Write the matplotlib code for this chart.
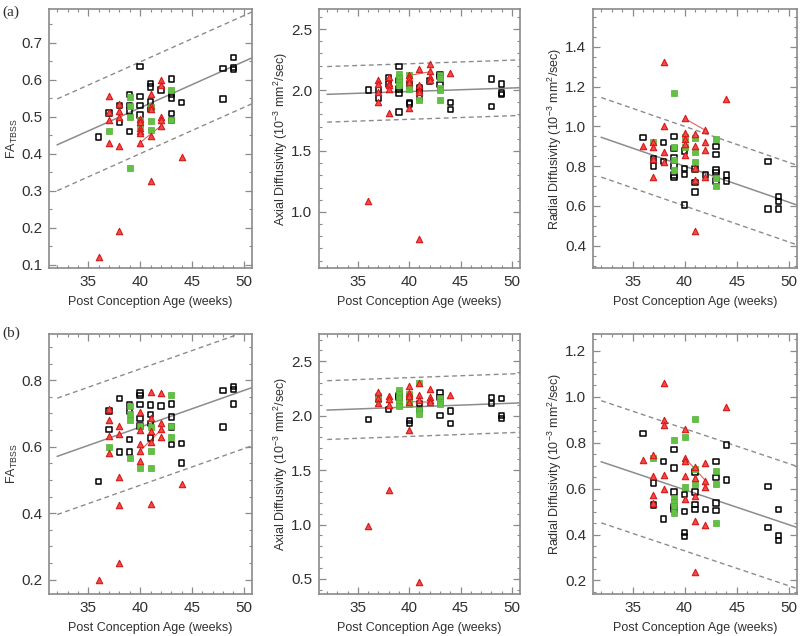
import numpy as np
import matplotlib
matplotlib.use("Agg")
import matplotlib.pyplot as plt
from matplotlib.ticker import MultipleLocator

# ---- (a) FA ----
fa_a_ctrl_age = [36, 37, 38, 38, 39, 39, 39, 39, 40, 40, 40, 40, 41, 41, 41, 41, 42, 43, 43, 43, 43, 43, 44, 48, 48, 49, 49, 49]
fa_a_ctrl_val = [0.445, 0.51, 0.53, 0.485, 0.56, 0.53, 0.515, 0.46, 0.635, 0.555, 0.53, 0.505, 0.59, 0.58, 0.54, 0.52,
                 0.572, 0.602, 0.56, 0.55, 0.508, 0.49, 0.538, 0.63, 0.548, 0.66, 0.633, 0.628]
fa_a_grn_age = [37, 39, 39, 39, 39, 40, 40, 41, 41, 41, 43, 43]
fa_a_grn_val = [0.462, 0.552, 0.528, 0.50, 0.362, 0.49, 0.475, 0.525, 0.488, 0.465, 0.572, 0.492]
fa_a_red_age = [36, 37, 37, 37, 37, 38, 38, 38, 38, 38, 40, 40, 40, 40, 40, 40, 41, 41, 41, 41, 41, 42, 42, 42, 42, 42, 44]
fa_a_red_val = [0.12, 0.555, 0.512, 0.49, 0.43, 0.535, 0.515, 0.498, 0.42, 0.19, 0.495, 0.485, 0.47, 0.46, 0.455, 0.43,
                0.56, 0.53, 0.52, 0.447, 0.325, 0.60, 0.585, 0.50, 0.49, 0.475, 0.39]
fa_a_link_age = [40, 42]
fa_a_link_val = [0.43, 0.475]

# ---- (a) AD ----
ad_a_ctrl_age = [36, 37, 37, 38, 38, 39, 39, 39, 39, 39, 40, 40, 40, 41, 41, 41, 42, 43, 43, 43, 44, 44, 48, 48, 49, 49, 49]
ad_a_ctrl_val = [2.0, 2.0, 1.935, 2.105, 2.05, 2.195, 2.08, 2.01, 1.975, 1.82, 2.04, 1.9, 1.885, 2.02, 2.0, 1.94, 2.075,
                 2.13, 2.11, 2.045, 1.9, 1.84, 2.09, 1.865, 2.05, 1.975, 1.965]
ad_a_grn_age = [39, 39, 39, 39, 40, 40, 41, 43, 43, 43, 43, 43]
ad_a_grn_val = [2.13, 2.1, 2.065, 2.04, 2.12, 2.01, 1.915, 2.12, 2.1, 2.02, 2.0, 1.92]
ad_a_red_age = [36, 37, 37, 37, 37, 38, 38, 38, 38, 38, 40, 40, 40, 40, 41, 41, 41, 41, 41, 42, 42, 42, 42, 44]
ad_a_red_val = [1.09, 2.085, 2.05, 1.98, 1.9, 2.11, 2.06, 2.04, 2.01, 1.81, 2.12, 2.1, 2.07, 1.85, 2.17, 2.04, 2.0, 1.98,
                0.78, 2.215, 2.155, 2.11, 2.08, 2.14]
ad_a_link_age = [40, 42]
ad_a_link_val = [2.12, 2.15]

# ---- (a) RD ----
rd_a_ctrl_age = [36, 37, 37, 38, 38, 39, 39, 39, 39, 39, 39, 40, 40, 40, 40, 41, 41, 41, 42, 43, 43, 43, 43, 43, 44, 44,
                 48, 48, 49, 49, 49]
rd_a_ctrl_val = [0.945, 0.835, 0.80, 0.92, 0.822, 0.95, 0.89, 0.845, 0.80, 0.755, 0.743, 0.877, 0.789, 0.758, 0.604,
                 0.785, 0.718, 0.671, 0.755, 0.90, 0.86, 0.78, 0.767, 0.725, 0.755, 0.725, 0.822, 0.584, 0.646, 0.621, 0.584]
rd_a_grn_age = [37, 39, 39, 39, 39, 40, 40, 41, 41, 41, 43, 43, 43]
rd_a_grn_val = [0.92, 1.17, 0.895, 0.83, 0.78, 0.948, 0.897, 0.94, 0.872, 0.819, 0.936, 0.738, 0.70]
rd_a_red_age = [36, 37, 37, 37, 37, 38, 38, 38, 38, 40, 40, 40, 40, 40, 41, 41, 41, 41, 41, 42, 42, 42, 42, 44]
rd_a_red_val = [0.90, 0.92, 0.897, 0.834, 0.743, 1.325, 1.003, 0.872, 0.822, 1.04, 0.968, 0.934, 0.911, 0.856, 0.961,
                0.90, 0.789, 0.73, 0.475, 0.98, 0.92, 0.88, 0.747, 1.14]
rd_a_link_age = [40, 42]
rd_a_link_val = [1.04, 0.98]

# ---- (b) FA ----
fa_b_ctrl_age = [36, 37, 37, 38, 38, 39, 39, 39, 39, 40, 40, 40, 40, 40, 41, 41, 41, 41, 42, 43, 43, 43, 43, 44, 44,
                 48, 48, 49, 49, 49]
fa_b_ctrl_val = [0.496, 0.707, 0.652, 0.745, 0.584, 0.727, 0.707, 0.621, 0.584, 0.762, 0.754, 0.727, 0.685, 0.662,
                 0.725, 0.697, 0.669, 0.626, 0.722, 0.729, 0.689, 0.659, 0.606, 0.609, 0.551, 0.769, 0.659, 0.782, 0.772, 0.729]
fa_b_grn_age = [37, 39, 39, 39, 39, 40, 40, 41, 41, 41, 43, 43, 43]
fa_b_grn_val = [0.60, 0.722, 0.699, 0.679, 0.566, 0.662, 0.536, 0.659, 0.586, 0.536, 0.757, 0.662, 0.628]
fa_b_red_age = [36, 37, 37, 37, 37, 38, 38, 38, 38, 38, 40, 40, 40, 40, 40, 41, 41, 41, 41, 41, 42, 42, 42, 42, 44]
fa_b_red_val = [0.198, 0.714, 0.679, 0.631, 0.581, 0.662, 0.638, 0.508, 0.426, 0.25, 0.704, 0.649, 0.608, 0.586, 0.556,
                0.765, 0.687, 0.647, 0.613, 0.428, 0.762, 0.672, 0.652, 0.628, 0.488]
fa_b_link_age = [40, 42]
fa_b_link_val = [0.588, 0.65]

# ---- (b) AD ----
ad_b_ctrl_age = [36, 37, 38, 39, 39, 40, 40, 40, 41, 41, 43, 43, 43, 44, 44, 48, 48, 49, 49, 49]
ad_b_ctrl_val = [1.965, 2.155, 2.055, 2.185, 2.17, 2.175, 1.955, 1.93, 2.115, 2.05, 2.215, 2.17, 2.0, 2.045, 1.93,
                 2.17, 2.115, 2.16, 2.0, 1.975]
ad_b_grn_age = [37, 37, 39, 39, 39, 39, 39, 40, 40, 40, 41, 41, 41, 43, 43, 43]
ad_b_grn_val = [2.185, 2.15, 2.235, 2.2, 2.16, 2.12, 2.085, 2.2, 2.13, 2.11, 2.3, 2.05, 2.015, 2.16, 2.13, 2.11]
ad_b_red_age = [36, 37, 37, 37, 38, 38, 38, 38, 40, 40, 40, 40, 40, 41, 41, 41, 41, 42, 42, 42, 42, 44]
ad_b_red_val = [0.985, 2.22, 2.16, 2.12, 2.18, 2.15, 2.1, 1.32, 2.27, 2.21, 2.18, 2.13, 1.87, 2.3, 2.19, 2.14, 0.47,
                2.25, 2.17, 2.14, 2.125, 2.19]
ad_b_link_age = [40, 42]
ad_b_link_val = [2.13, 2.125]

# ---- (b) RD ----
rd_b_ctrl_age = [36, 37, 37, 38, 38, 39, 39, 39, 39, 39, 40, 40, 40, 40, 41, 41, 41, 41, 42, 43, 43, 43, 43, 44, 44,
                 48, 48, 49, 49, 49]
rd_b_ctrl_val = [0.841, 0.624, 0.529, 0.718, 0.468, 0.769, 0.689, 0.585, 0.522, 0.51, 0.573, 0.50, 0.41, 0.392,
                 0.672, 0.585, 0.532, 0.508, 0.508, 0.718, 0.648, 0.537, 0.504, 0.79, 0.638, 0.609, 0.43, 0.508, 0.395, 0.374]
rd_b_grn_age = [37, 39, 39, 39, 39, 39, 40, 40, 41, 41, 41, 43, 43, 43]
rd_b_grn_val = [0.733, 0.812, 0.561, 0.54, 0.522, 0.493, 0.823, 0.605, 0.904, 0.686, 0.62, 0.675, 0.62, 0.45]
rd_b_red_age = [36, 37, 37, 37, 37, 38, 38, 38, 38, 38, 40, 40, 40, 40, 40, 41, 41, 41, 41, 41, 42, 42, 42, 42, 44]
rd_b_red_val = [0.725, 0.747, 0.653, 0.573, 0.537, 1.059, 0.90, 0.878, 0.66, 0.60, 0.86, 0.735, 0.72, 0.653, 0.554,
                0.696, 0.648, 0.566, 0.46, 0.235, 0.711, 0.635, 0.606, 0.44, 0.954]
rd_b_link_age = [40, 42]
rd_b_link_val = [0.735, 0.635]

# regression fit: value at 40 weeks, slope per week, prediction band half-width
fit_mid = [0.524, 1.988, 0.800, 0.659, 2.08, 0.595]
fit_slope = [0.0125, 0.0029, -0.0181, 0.011, 0.0035, -0.0152]
fit_band = [0.124, 0.228, 0.200, 0.175, 0.27, 0.266]

ylabels = [r'FA$_{\rm TBSS}$', 'Axial Diffusivity (10$^{-3}$ mm$^{2}$/sec)', 'Radial Diffusivity (10$^{-3}$ mm$^{2}$/sec)'] * 2
ylims = [(0.091, 0.791), (0.54, 2.665), (0.288, 1.59), (0.157, 0.939), (0.362, 2.751), (0.141, 1.273)]
ymajor = [0.1, 0.5, 0.2, 0.2, 0.5, 0.2]
yminor = [0.05, 0.1, 0.05, 0.05, 0.1, 0.05]

panels = [
    (fa_a_ctrl_age, fa_a_ctrl_val, fa_a_grn_age, fa_a_grn_val, fa_a_red_age, fa_a_red_val, fa_a_link_age, fa_a_link_val),
    (ad_a_ctrl_age, ad_a_ctrl_val, ad_a_grn_age, ad_a_grn_val, ad_a_red_age, ad_a_red_val, ad_a_link_age, ad_a_link_val),
    (rd_a_ctrl_age, rd_a_ctrl_val, rd_a_grn_age, rd_a_grn_val, rd_a_red_age, rd_a_red_val, rd_a_link_age, rd_a_link_val),
    (fa_b_ctrl_age, fa_b_ctrl_val, fa_b_grn_age, fa_b_grn_val, fa_b_red_age, fa_b_red_val, fa_b_link_age, fa_b_link_val),
    (ad_b_ctrl_age, ad_b_ctrl_val, ad_b_grn_age, ad_b_grn_val, ad_b_red_age, ad_b_red_val, ad_b_link_age, ad_b_link_val),
    (rd_b_ctrl_age, rd_b_ctrl_val, rd_b_grn_age, rd_b_grn_val, rd_b_red_age, rd_b_red_val, rd_b_link_age, rd_b_link_val),
]

# axes boxes in pixels (left, top, right, bottom) of the 800x636 figure
W, H = 800, 636
boxes = [(49, 9, 252, 268), (319, 9, 520, 268), (593, 9, 797, 268),
         (49, 334, 252, 594), (319, 334, 520, 594), (593, 334, 797, 594)]

frame_col = '#8a8a8a'
text_col = '#303030'
plt.rcParams['font.family'] = ['Liberation Sans', 'DejaVu Sans']
plt.rcParams['mathtext.fontset'] = 'custom'
plt.rcParams['mathtext.rm'] = 'Liberation Sans'

fig = plt.figure(figsize=(8, 6.36), dpi=100)

for i, (cx, cy, gx, gy, rx, ry, lx, ly) in enumerate(panels):
    l, t, r, b = boxes[i]
    ax = fig.add_axes([l / W, 1 - b / H, (r - l) / W, (b - t) / H])
    ax.set_xlim(31.2, 50.8)
    ax.set_ylim(*ylims[i])

    xx = np.array([32, 50.8])
    yy = fit_mid[i] + fit_slope[i] * (xx - 40)
    ax.plot(xx, yy, color='#8c8c8c', lw=1.1, zorder=1)
    ax.plot(xx, yy + fit_band[i], color='#8c8c8c', lw=1.0, ls=(0, (3.5, 2.5)), zorder=1)
    ax.plot(xx, yy - fit_band[i], color='#8c8c8c', lw=1.0, ls=(0, (3.5, 2.5)), zorder=1)

    ax.plot(lx, ly, color='#e06060', lw=0.8, zorder=2)
    ax.scatter(cx, cy, marker='s', s=15, facecolor='none', edgecolor='black', linewidth=1.1, zorder=3)
    ax.scatter(gx, gy, marker='s', s=17, facecolor='#62c043', edgecolor='#52b035', linewidth=0.5, zorder=4)
    ax.scatter(rx, ry, marker='^', s=21, facecolor='#f24a4a', edgecolor='#d81818', linewidth=0.8, zorder=5)

    ax.xaxis.set_major_locator(MultipleLocator(5))
    ax.xaxis.set_minor_locator(MultipleLocator(1))
    ax.yaxis.set_major_locator(MultipleLocator(ymajor[i]))
    ax.yaxis.set_minor_locator(MultipleLocator(yminor[i]))
    ax.tick_params(which='both', direction='in', top=True, right=True, colors=frame_col,
                   labelcolor=text_col, labelsize=11)
    ax.tick_params(which='major', length=5, width=0.9, pad=5)
    ax.tick_params(which='minor', length=2.5, width=0.8)
    for sp in ax.spines.values():
        sp.set_color(frame_col)
        sp.set_linewidth(1.2)

    ax.set_xlabel('Post Conception Age (weeks)', fontsize=9, color=text_col, labelpad=5)
    ax.set_ylabel(ylabels[i], fontsize=9, color=text_col, labelpad=1)

fig.text(2 / W, 1 - 12 / H, '(a)', fontsize=11, family='Liberation Serif', color=text_col, va='center')
fig.text(2 / W, 1 - 333 / H, '(b)', fontsize=11, family='Liberation Serif', color=text_col, va='center')

fig.savefig('out.png', dpi=100)
